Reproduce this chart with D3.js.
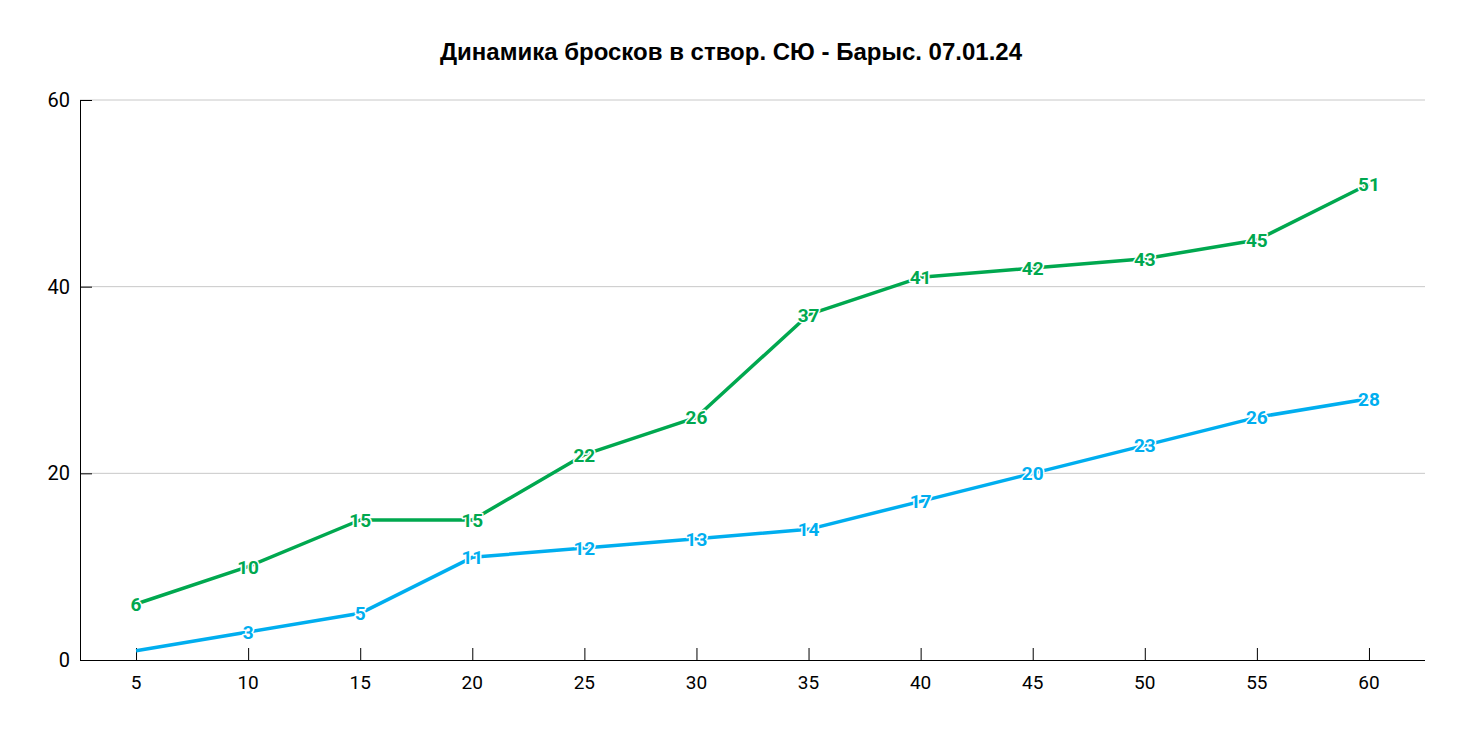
<!DOCTYPE html>
<html><head><meta charset="utf-8">
<script src="https://cdn.jsdelivr.net/npm/d3@7"></script>
<style>body{margin:0;background:#fff;} svg{display:block;}</style>
</head><body>
<svg id="c" width="1463" height="731"></svg>
<script>
const title = "Динамика бросков в створ. СЮ - Барыс. 07.01.24";
const minutes = [5,10,15,20,25,30,35,40,45,50,55,60];
const greenSeries = [6,10,15,15,22,26,37,41,42,43,45,51];
const blueSeries = [1,3,5,11,12,13,14,17,20,23,26,28];
const blueLabelShown = [false,true,true,true,true,true,true,true,true,true,true,true];
const yTicks = [0,20,40,60];

const svg = d3.select("#c");
const L=80, R=1425, T=100, B=660;
const x = d3.scalePoint().domain(minutes).range([L,R]).padding(0.5);
const y = d3.scaleLinear().domain([0,60]).range([B,T]);

svg.append("text").attr("x",731).attr("y",60).attr("text-anchor","middle")
  .attr("font-family","Liberation Sans, Arial, sans-serif").attr("font-weight","bold")
  .attr("font-size",24).attr("fill","#000").text(title);

// grid
svg.append("g").selectAll("line").data(yTicks.filter(d=>d>0)).join("line")
  .attr("x1",L).attr("x2",R).attr("y1",d=>y(d)).attr("y2",d=>y(d))
  .attr("stroke","#c8c8c8").attr("stroke-width",1);

// y axis
const ya = svg.append("g").attr("transform",`translate(${L},0)`)
  .call(d3.axisRight(y).tickValues(yTicks).tickSize(12).tickFormat(""));
ya.select(".domain").remove();
ya.selectAll("line").attr("stroke","#000");
svg.append("line").attr("x1",L+0.5).attr("x2",L+0.5).attr("y1",T).attr("y2",B).attr("stroke","#000");
svg.append("g").selectAll("text").data(yTicks).join("text")
  .attr("x",70).attr("y",d=>y(d)+7).attr("text-anchor","end")
  .attr("font-family","Roboto, sans-serif").attr("font-size",20).attr("fill","#000").text(d=>d);

// x axis
const xa = svg.append("g").attr("transform",`translate(0,${B})`)
  .call(d3.axisTop(x).tickSize(12).tickFormat(""));
xa.select(".domain").remove();
xa.selectAll("line").attr("stroke","#000");
svg.append("line").attr("x1",L).attr("x2",R).attr("y1",B+0.5).attr("y2",B+0.5).attr("stroke","#000");
svg.append("g").selectAll("text").data(minutes).join("text")
  .attr("x",d=>x(d)).attr("y",B+29).attr("text-anchor","middle")
  .attr("font-family","Roboto, sans-serif").attr("font-size",19).attr("fill","#000").text(d=>d);

function series(vals,color,shown){
  const line = d3.line().x((d,i)=>x(minutes[i])).y(d=>y(d));
  svg.append("path").datum(vals).attr("d",line).attr("fill","none")
    .attr("stroke",color).attr("stroke-width",3.5).attr("stroke-linejoin","round");
  const g = svg.append("g");
  const data = vals.map((v,i)=>({v,i})).filter(d=>!shown || shown[d.i]);
  g.selectAll("text").data(data).join("text")
    .attr("x",d=>x(minutes[d.i])).attr("y",d=>y(d.v)+7)
    .attr("text-anchor","middle").attr("font-family","Roboto, sans-serif")
    .attr("font-weight","bold").attr("font-size",19)
    .attr("fill",color).attr("stroke","#fff").attr("stroke-width",3)
    .attr("paint-order","stroke").attr("stroke-linejoin","round").text(d=>d.v);
}
series(greenSeries,"#00a84f");
series(blueSeries,"#00aeef",blueLabelShown);
</script>
</body></html>
